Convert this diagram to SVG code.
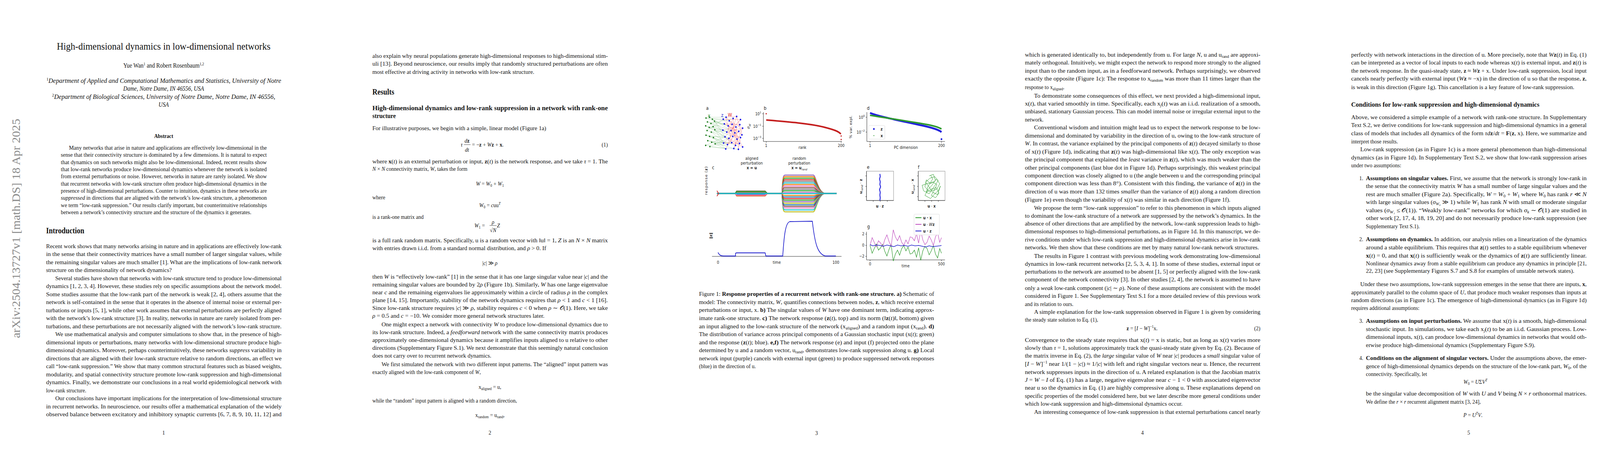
<svg xmlns="http://www.w3.org/2000/svg" width="4635" height="1200" viewBox="0 0 4635 1200">
<style>
.t{font-family:"Liberation Serif","Times New Roman",serif;font-size:15px;fill:#111}
.ab{font-size:14.5px}
.i{font-style:italic}
.b{font-weight:bold}
.c{text-anchor:middle}
.e{text-anchor:end}
.h1{font-family:"Liberation Serif",serif;font-size:20px;font-weight:bold;fill:#111}
.h2{font-family:"Liberation Serif",serif;font-size:17px;font-weight:bold;fill:#111}
.f{font-family:"DejaVu Sans",sans-serif;font-size:10px;fill:#222}
.ax{stroke:#222;stroke-width:1;fill:none}
.tk{stroke:#222;stroke-width:1}
</style>
<rect width="4635" height="1200" fill="#fff"/>
<g transform="scale(0.901,1)">
<g id="page1">
<text class="t" transform="translate(57,865) rotate(-90)" style="font-size:32px;fill:#8a8a8a" textLength="561" lengthAdjust="spacingAndGlyphs">arXiv:2504.13727v1  [math.DS]  18 Apr 2025</text>
<text class="t" x="465" y="127" style="font-size:25px" text-anchor="middle" textLength="607" lengthAdjust="spacingAndGlyphs">High-dimensional dynamics in low-dimensional networks</text>
<text class="t c" x="465" y="173" style="font-size:16px">Yue Wan<tspan dy="-6" font-size="10">1</tspan><tspan dy="6"> and Robert Rosenbaum</tspan><tspan dy="-6" font-size="10">1,2</tspan></text>
<text class="t i" x="132" y="212" style="font-size:16px" textLength="667" lengthAdjust="spacingAndGlyphs"><tspan dy="-6" font-size="10" font-style="normal">1</tspan><tspan dy="6">Department of Applied and Computational Mathematics and Statistics, University of Notre</tspan></text>
<text class="t i c" x="465" y="232" style="font-size:16px">Dame, Notre Dame, IN 46556, USA</text>
<text class="t i" x="148" y="253" style="font-size:16px" textLength="634" lengthAdjust="spacingAndGlyphs"><tspan dy="-6" font-size="10" font-style="normal">2</tspan><tspan dy="6">Department of Biological Sciences, University of Notre Dame, Notre Dame, IN 46556,</tspan></text>
<text class="t i c" x="465" y="273" style="font-size:16px">USA</text>
<text class="t b c" x="465" y="353" style="font-size:14.5px">Abstract</text>
<text class="t ab" x="196" y="383" textLength="562" lengthAdjust="spacingAndGlyphs">Many networks that arise in nature and applications are effectively low-dimensional in the</text>
<text class="t ab" x="173" y="401" textLength="585" lengthAdjust="spacingAndGlyphs">sense that their connectivity structure is dominated by a few dimensions. It is natural to expect</text>
<text class="t ab" x="173" y="420" textLength="585" lengthAdjust="spacingAndGlyphs">that dynamics on such networks might also be low-dimensional. Indeed, recent results show</text>
<text class="t ab" x="173" y="438" textLength="585" lengthAdjust="spacingAndGlyphs">that low-rank networks produce low-dimensional dynamics whenever the network is isolated</text>
<text class="t ab" x="173" y="456" textLength="585" lengthAdjust="spacingAndGlyphs">from external perturbations or noise. However, networks in nature are rarely isolated. We show</text>
<text class="t ab" x="173" y="475" textLength="585" lengthAdjust="spacingAndGlyphs">that recurrent networks with low-rank structure often produce high-dimensional dynamics in the</text>
<text class="t ab" x="173" y="493" textLength="585" lengthAdjust="spacingAndGlyphs">presence of high-dimensional perturbations. Counter to intuition, dynamics in these networks are</text>
<text class="t ab" x="173" y="511" textLength="585" lengthAdjust="spacingAndGlyphs"><tspan class="i">suppressed</tspan> in directions that are aligned with the network’s low-rank structure, a phenomenon</text>
<text class="t ab" x="173" y="530" textLength="585" lengthAdjust="spacingAndGlyphs">we term “low-rank suppression.” Our results clarify important, but counterintuitive relationships</text>
<text class="t ab" x="173" y="548" textLength="541" lengthAdjust="spacingAndGlyphs">between a network’s connectivity structure and the structure of the dynamics it generates.</text>
<text class="h1" x="131" y="597">Introduction</text>
<text class="t" x="131" y="635" textLength="669" lengthAdjust="spacingAndGlyphs">Recent work shows that many networks arising in nature and in applications are effectively low-rank</text>
<text class="t" x="131" y="655" textLength="669" lengthAdjust="spacingAndGlyphs">in the sense that their connectivity matrices have a small number of larger singular values, while</text>
<text class="t" x="131" y="676" textLength="669" lengthAdjust="spacingAndGlyphs">the remaining singular values are much smaller [1]. What are the implications of low-rank network</text>
<text class="t" x="131" y="696" textLength="357" lengthAdjust="spacingAndGlyphs">structure on the dimensionality of network dynamics?</text>
<text class="t" x="157" y="717" textLength="643" lengthAdjust="spacingAndGlyphs">Several studies have shown that networks with low-rank structure tend to produce low-dimensional</text>
<text class="t" x="131" y="737" textLength="669" lengthAdjust="spacingAndGlyphs">dynamics [1, 2, 3, 4]. However, these studies rely on specific assumptions about the network model.</text>
<text class="t" x="131" y="758" textLength="669" lengthAdjust="spacingAndGlyphs">Some studies assume that the low-rank part of the network is weak [2, 4], others assume that the</text>
<text class="t" x="131" y="778" textLength="669" lengthAdjust="spacingAndGlyphs">network is self-contained in the sense that it operates in the absence of internal noise or external per-</text>
<text class="t" x="131" y="799" textLength="669" lengthAdjust="spacingAndGlyphs">turbations or inputs [5, 1], while other work assumes that external perturbations are perfectly aligned</text>
<text class="t" x="131" y="819" textLength="669" lengthAdjust="spacingAndGlyphs">with the network’s low-rank structure [3]. In reality, networks in nature are rarely isolated from per-</text>
<text class="t" x="131" y="840" textLength="669" lengthAdjust="spacingAndGlyphs">turbations, and these perturbations are not necessarily aligned with the network’s low-rank structure.</text>
<text class="t" x="157" y="860" textLength="643" lengthAdjust="spacingAndGlyphs">We use mathematical analysis and computer simulations to show that, in the presence of high-</text>
<text class="t" x="131" y="881" textLength="669" lengthAdjust="spacingAndGlyphs">dimensional inputs or perturbations, many networks with low-dimensional structure produce high-</text>
<text class="t" x="131" y="901" textLength="669" lengthAdjust="spacingAndGlyphs">dimensional dynamics. Moreover, perhaps counterintuitively, these networks <tspan class="i">suppress</tspan> variability in</text>
<text class="t" x="131" y="922" textLength="669" lengthAdjust="spacingAndGlyphs">directions that are aligned with their low-rank structure relative to random directions, an effect we</text>
<text class="t" x="131" y="942" textLength="669" lengthAdjust="spacingAndGlyphs">call “low-rank suppression.” We show that many common structural features such as biased weights,</text>
<text class="t" x="131" y="963" textLength="669" lengthAdjust="spacingAndGlyphs">modularity, and spatial connectivity structure promote low-rank suppression and high-dimensional</text>
<text class="t" x="131" y="983" textLength="669" lengthAdjust="spacingAndGlyphs">dynamics. Finally, we demonstrate our conclusions in a real world epidemiological network with</text>
<text class="t" x="131" y="1004">low-rank structure.</text>
<text class="t" x="157" y="1024" textLength="643" lengthAdjust="spacingAndGlyphs">Our conclusions have important implications for the interpretation of low-dimensional structure</text>
<text class="t" x="131" y="1045" textLength="669" lengthAdjust="spacingAndGlyphs">in recurrent networks. In neuroscience, our results offer a mathematical explanation of the widely</text>
<text class="t" x="131" y="1065" textLength="669" lengthAdjust="spacingAndGlyphs">observed balance between excitatory and inhibitory synaptic currents [6, 7, 8, 9, 10, 11, 12] and</text>
<text class="t c" x="465" y="1112">1</text>
</g>

<g id="page2">
<text class="t" x="1058" y="148" textLength="669" lengthAdjust="spacingAndGlyphs">also explain why neural populations generate high-dimensional responses to high-dimensional stim-</text>
<text class="t" x="1058" y="168" textLength="669" lengthAdjust="spacingAndGlyphs">uli [13]. Beyond neuroscience, our results imply that randomly structured perturbations are often</text>
<text class="t" x="1058" y="189" textLength="460" lengthAdjust="spacingAndGlyphs">most effective at driving activity in networks with low-rank structure.</text>
<text class="h1" x="1058" y="242">Results</text>
<text class="h2" x="1058" y="282" textLength="669" lengthAdjust="spacingAndGlyphs">High-dimensional dynamics and low-rank suppression in a network with rank-one</text>
<text class="h2" x="1058" y="302">structure</text>
<text class="t" x="1058" y="333" textLength="494" lengthAdjust="spacingAndGlyphs">For illustrative purposes, we begin with a simple, linear model (Figure 1a)</text>
<text class="t i" x="1309" y="375">τ</text>
<text class="t c" x="1327" y="365"><tspan class="i">d</tspan><tspan class="b">z</tspan></text>
<line x1="1318" y1="370" x2="1337" y2="370" stroke="#111" stroke-width="0.8"/>
<text class="t i c" x="1327" y="388">dt</text>
<text class="t" x="1341" y="375">= −<tspan class="b">z</tspan> + <tspan class="i">W</tspan><tspan class="b">z</tspan> + <tspan class="b">x</tspan>.</text>
<text class="t e" x="1727" y="375">(1)</text>
<text class="t" x="1058" y="418" textLength="669" lengthAdjust="spacingAndGlyphs">where <tspan class="b">x</tspan>(<tspan class="i">t</tspan>) is an external perturbation or input, <tspan class="b">z</tspan>(<tspan class="i">t</tspan>) is the network response, and we take <tspan class="i">τ</tspan> = 1. The</text>
<text class="t" x="1058" y="437"><tspan class="i">N</tspan> × <tspan class="i">N</tspan> connectivity matrix, <tspan class="i">W</tspan>, takes the form</text>
<text class="t c" x="1392" y="475"><tspan class="i">W</tspan> = <tspan class="i">W</tspan><tspan dy="3" font-size="10">0</tspan><tspan dy="-3"> + </tspan><tspan class="i">W</tspan><tspan dy="3" font-size="10">1</tspan></text>
<text class="t" x="1058" y="510">where</text>
<text class="t c" x="1392" y="530"><tspan class="i">W</tspan><tspan dy="3" font-size="10">0</tspan><tspan dy="-3"> = </tspan><tspan class="i">c</tspan>uu<tspan dy="-6" font-size="10" class="i">T</tspan></text>
<text class="t" x="1058" y="560">is a rank-one matrix and</text>
<text class="t" x="1348" y="582"><tspan class="i">W</tspan><tspan dy="3" font-size="10">1</tspan><tspan dy="-3"> =</tspan></text>
<text class="t i c" x="1401" y="573">ρ</text>
<line x1="1391" y1="577" x2="1411" y2="577" stroke="#111" stroke-width="0.8"/>
<text class="t c" x="1401" y="594">√<tspan class="i">N</tspan></text>
<text class="t i" x="1412" y="582">Z</text>
<text class="t" x="1058" y="620" textLength="669" lengthAdjust="spacingAndGlyphs">is a full rank random matrix. Specifically, u is a random vector with ‖u‖ = 1, <tspan class="i">Z</tspan> is an <tspan class="i">N</tspan> × <tspan class="i">N</tspan> matrix</text>
<text class="t" x="1058" y="640" textLength="494" lengthAdjust="spacingAndGlyphs">with entries drawn i.i.d. from a standard normal distribution, and <tspan class="i">ρ</tspan> &gt; 0. If</text>
<text class="t c" x="1392" y="678">|<tspan class="i">c</tspan>| ≫ <tspan class="i">ρ</tspan></text>
<text class="t" x="1058" y="713" textLength="669" lengthAdjust="spacingAndGlyphs">then <tspan class="i">W</tspan> is “effectively low-rank” [1] in the sense that it has one large singular value near |<tspan class="i">c</tspan>| and the</text>
<text class="t" x="1058" y="733" textLength="669" lengthAdjust="spacingAndGlyphs">remaining singular values are bounded by 2<tspan class="i">ρ</tspan> (Figure 1b). Similarly, <tspan class="i">W</tspan> has one large eigenvalue</text>
<text class="t" x="1058" y="753" textLength="669" lengthAdjust="spacingAndGlyphs">near <tspan class="i">c</tspan> and the remaining eigenvalues lie approximately within a circle of radius <tspan class="i">ρ</tspan> in the complex</text>
<text class="t" x="1058" y="773" textLength="669" lengthAdjust="spacingAndGlyphs">plane [14, 15]. Importantly, stability of the network dynamics requires that <tspan class="i">ρ</tspan> &lt; 1 and <tspan class="i">c</tspan> &lt; 1 [16].</text>
<text class="t" x="1058" y="793" textLength="669" lengthAdjust="spacingAndGlyphs">Since low-rank structure requires |<tspan class="i">c</tspan>| ≫ <tspan class="i">ρ</tspan>, stability requires <tspan class="i">c</tspan> &lt; 0 when <tspan class="i">ρ</tspan> ∼ 𝒪(1). Here, we take</text>
<text class="t" x="1058" y="813" textLength="489" lengthAdjust="spacingAndGlyphs"><tspan class="i">ρ</tspan> = 0.5 and <tspan class="i">c</tspan> = −10. We consider more general network structures later.</text>
<text class="t" x="1084" y="835" textLength="643" lengthAdjust="spacingAndGlyphs">One might expect a network with connectivity <tspan class="i">W</tspan> to produce low-dimensional dynamics due to</text>
<text class="t" x="1058" y="855" textLength="669" lengthAdjust="spacingAndGlyphs">its low-rank structure. Indeed, a <tspan class="i">feedforward</tspan> network with the same connectivity matrix produces</text>
<text class="t" x="1058" y="875" textLength="669" lengthAdjust="spacingAndGlyphs">approximately one-dimensional dynamics because it amplifies inputs aligned to u relative to other</text>
<text class="t" x="1058" y="895" textLength="669" lengthAdjust="spacingAndGlyphs">directions (Supplementary Figure S.1). We next demonstrate that this seemingly natural conclusion</text>
<text class="t" x="1058" y="915" textLength="338" lengthAdjust="spacingAndGlyphs">does not carry over to recurrent network dynamics.</text>
<text class="t" x="1084" y="937" textLength="643" lengthAdjust="spacingAndGlyphs">We first simulated the network with two different input patterns. The “aligned” input pattern was</text>
<text class="t" x="1058" y="957">exactly aligned with the low-rank component of <tspan class="i">W</tspan>,</text>
<text class="t c" x="1392" y="995">x<tspan dy="3" font-size="10">aligned</tspan><tspan dy="-3"> = u,</tspan></text>
<text class="t" x="1058" y="1030">while the “random” input pattern is aligned with a random direction,</text>
<text class="t c" x="1392" y="1067">x<tspan dy="3" font-size="10">random</tspan><tspan dy="-3"> = u</tspan><tspan dy="3" font-size="10">rand</tspan><tspan dy="-3">,</tspan></text>
<text class="t c" x="1392" y="1112">2</text>
</g>

<g id="page3">
<g id="fig-a">
<text class="f" x="2006" y="281" style="font-size:12px">a</text>
<text class="f" x="2011" y="300" style="font-size:12px;fill:#2a8a2a">x</text>
<text class="f" x="2049" y="299" style="font-size:12px;fill:#2222cc">z</text>
<text class="f" x="2068" y="298" style="font-size:12px;fill:#dd2222">W</text>
<path stroke="#3a9a3a" stroke-opacity="0.4" stroke-width="0.8" fill="none" d="M2006,302L2055,305 M2006,302L2069,322 M2016,300L2063,300 M2016,300L2088,340 M2024,305L2072,309 M2024,305L2054,333 M2010,312L2058,317 M2010,312L2077,334 M2020,316L2065,338 M2020,316L2083,303 M2030,310L2069,322 M2030,310L2060,350 M2005,322L2054,333 M2005,322L2071,354 M2015,326L2058,317 M2015,326L2082,349 M2026,324L2065,338 M2026,324L2056,366 M2009,334L2060,350 M2009,334L2055,305 M2021,338L2067,370 M2021,338L2077,334 M2031,332L2054,333 M2031,332L2079,365 M2006,346L2056,366 M2006,346L2071,354 M2016,349L2060,350 M2016,349L2090,372 M2027,352L2067,370 M2027,352L2062,381 M2011,360L2056,366 M2011,360L2085,380 M2022,364L2062,381 M2022,364L2079,365 M2005,372L2067,370 M2005,372L2060,350 M2017,375L2062,381 M2017,375L2098,382 M2032,368L2056,366 M2032,368L2071,354"/>
<path stroke="#ee3333" stroke-opacity="0.5" stroke-width="0.8" fill="none" d="M2055,305L2104,306 M2063,300L2091,325 M2072,309L2110,328 M2083,303L2065,338 M2093,298L2108,345 M2104,306L2077,334 M2058,317L2102,319 M2069,322L2094,356 M2080,318L2110,376 M2091,325L2054,333 M2102,319L2071,354 M2110,328L2082,349 M2065,338L2104,352 M2077,334L2101,367 M2088,340L2056,366 M2099,336L2067,370 M2108,345L2079,365 M2060,350L2090,372 M2071,354L2110,376 M2082,349L2062,381 M2094,356L2085,380 M2104,352L2098,382 M2056,366L2101,367 M2067,370L2093,298 M2079,365L2063,300 M2090,372L2083,303 M2101,367L2072,309 M2055,305L2088,340 M2104,306L2060,350 M2110,328L2065,338 M2099,336L2058,317 M2108,345L2069,322 M2085,380L2110,328 M2098,382L2091,325 M2063,300L2093,298"/>
<g fill="#1a7a1a">
<circle cx="2006" cy="302" r="2"/><circle cx="2016" cy="300" r="2"/><circle cx="2024" cy="305" r="2"/><circle cx="2010" cy="312" r="2"/><circle cx="2020" cy="316" r="2"/><circle cx="2030" cy="310" r="2"/><circle cx="2005" cy="322" r="2"/><circle cx="2015" cy="326" r="2"/><circle cx="2026" cy="324" r="2"/><circle cx="2009" cy="334" r="2"/><circle cx="2021" cy="338" r="2"/><circle cx="2031" cy="332" r="2"/><circle cx="2006" cy="346" r="2"/><circle cx="2016" cy="349" r="2"/><circle cx="2027" cy="352" r="2"/><circle cx="2011" cy="360" r="2"/><circle cx="2022" cy="364" r="2"/><circle cx="2005" cy="372" r="2"/><circle cx="2017" cy="375" r="2"/><circle cx="2032" cy="368" r="2"/>
</g>
<g fill="#1a1aee">
<circle cx="2055" cy="305" r="2.2"/><circle cx="2063" cy="300" r="2.2"/><circle cx="2072" cy="309" r="2.2"/><circle cx="2083" cy="303" r="2.2"/><circle cx="2093" cy="298" r="2.2"/><circle cx="2104" cy="306" r="2.2"/><circle cx="2058" cy="317" r="2.2"/><circle cx="2069" cy="322" r="2.2"/><circle cx="2080" cy="318" r="2.2"/><circle cx="2091" cy="325" r="2.2"/><circle cx="2102" cy="319" r="2.2"/><circle cx="2110" cy="328" r="2.2"/><circle cx="2054" cy="333" r="2.2"/><circle cx="2065" cy="338" r="2.2"/><circle cx="2077" cy="334" r="2.2"/><circle cx="2088" cy="340" r="2.2"/><circle cx="2099" cy="336" r="2.2"/><circle cx="2108" cy="345" r="2.2"/><circle cx="2060" cy="350" r="2.2"/><circle cx="2071" cy="354" r="2.2"/><circle cx="2082" cy="349" r="2.2"/><circle cx="2094" cy="356" r="2.2"/><circle cx="2104" cy="352" r="2.2"/><circle cx="2056" cy="366" r="2.2"/><circle cx="2067" cy="370" r="2.2"/><circle cx="2079" cy="365" r="2.2"/><circle cx="2090" cy="372" r="2.2"/><circle cx="2101" cy="367" r="2.2"/><circle cx="2110" cy="376" r="2.2"/><circle cx="2062" cy="381" r="2.2"/><circle cx="2085" cy="380" r="2.2"/><circle cx="2098" cy="382" r="2.2"/>
</g>
</g>

<g id="fig-b">
<text class="f" x="2170" y="281" style="font-size:12px">b</text>
<path class="ax" d="M2169,287 L2169,362 L2392,362"/>
<path class="tk" d="M2166,291H2169 M2166,323H2169 M2166,354H2169 M2177,362V365 M2390,362V365"/>
<text class="f e" x="2163" y="295">10<tspan dy="-5" font-size="7">1</tspan></text>
<text class="f e" x="2163" y="327">10<tspan dy="-5" font-size="7">−1</tspan></text>
<text class="f e" x="2163" y="358">10<tspan dy="-5" font-size="7">−3</tspan></text>
<text class="f i" transform="translate(2130,330) rotate(-90)">σ<tspan dy="3" font-size="7">W</tspan></text>
<text class="f c" x="2177" y="376">1</text>
<text class="f c" x="2390" y="376">200</text>
<text class="f c" x="2280" y="381">rank</text>
<path d="M2177,307 C2230,311 2300,316 2340,325 C2370,332 2383,336 2389,343" stroke="#c41e1e" stroke-width="4" fill="none"/>
<g fill="#c41e1e"><circle cx="2177" cy="291" r="1.8"/><circle cx="2390" cy="348" r="1.8"/><circle cx="2390" cy="357" r="1.8"/></g>
</g>

<g id="fig-d">
<text class="f" x="2463" y="281" style="font-size:12px">d</text>
<path class="ax" d="M2463,287 L2463,362 L2685,362"/>
<path class="tk" d="M2460,300H2463 M2460,338H2463 M2472,362V365 M2675,362V365"/>
<text class="f e" x="2457" y="304">10<tspan dy="-5" font-size="7">0</tspan></text>
<text class="f e" x="2457" y="342">10<tspan dy="-5" font-size="7">−2</tspan></text>
<text class="f c" transform="translate(2421,325) rotate(-90)">% var. expl.</text>
<text class="f c" x="2472" y="376">1</text>
<text class="f c" x="2675" y="376">200</text>
<text class="f c" x="2574" y="381">PC dimension</text>
<path d="M2472,289 C2500,299 2560,309 2620,321 C2650,327 2668,332 2675,338" stroke="#2222dd" stroke-width="5" fill="none"/>
<path d="M2472,295 C2520,302 2580,310 2630,318 C2655,322 2668,326 2675,330" stroke="#2e9a2e" stroke-width="4" fill="none"/>
<circle cx="2675" cy="356" r="2.5" fill="#2222dd"/>
<rect x="2468" y="321" width="46" height="35" rx="2" fill="#fff" fill-opacity="0.85" stroke="#ddd"/>
<circle cx="2483" cy="330" r="2.5" fill="#2222dd"/>
<text class="f b" x="2502" y="334">z</text>
<circle cx="2483" cy="347" r="1.2" fill="#2e9a2e"/>
<text class="f b" x="2502" y="351">x</text>
</g>

<g id="fig-c">
<text class="f c" x="2136" y="409">aligned</text>
<text class="f c" x="2136" y="421">perturbation</text>
<text class="f c b" x="2136" y="433">x = u</text>
<text class="f c" x="2271" y="409">random</text>
<text class="f c" x="2271" y="421">perturbation</text>
<text class="f c" x="2271" y="433"><tspan class="b">x = u</tspan><tspan dy="3" font-size="7" class="i">rand</tspan></text>
<text class="f" x="2023" y="433" style="font-size:12px">c</text>
<text class="f c" transform="translate(2010,462) rotate(-90)" style="letter-spacing:1px">response (<tspan class="b">z</tspan>)</text>
<g fill="none" stroke-width="2.5">
<path stroke="#bcbd22" d="M2037,495 L2089,495 L2093,501 L2174,501 L2180,495 L2222,495 C2224,542 2226,542 2232,542 L2311,542 C2318,542 2325,495 2345,495 L2377,495"/>
<path stroke="#9467bd" d="M2037,495 L2089,495 L2093,489 L2174,489 L2180,495 L2222,495 C2224,448 2226,448 2232,448 L2311,448 C2318,448 2325,495 2345,495 L2377,495"/>
<path stroke="#17becf" d="M2037,495 L2089,495 L2093,500 L2174,500 L2180,495 L2222,495 C2224,537 2226,537 2232,537 L2311,537 C2318,537 2325,495 2345,495 L2377,495"/>
<path stroke="#ff7f0e" d="M2037,495 L2089,495 L2093,490 L2174,490 L2180,495 L2222,495 C2224,452 2226,452 2232,452 L2311,452 C2318,452 2325,495 2345,495 L2377,495"/>
<path stroke="#e377c2" d="M2037,495 L2089,495 L2093,499 L2174,499 L2180,495 L2222,495 C2224,532 2226,532 2232,532 L2311,532 C2318,532 2325,495 2345,495 L2377,495"/>
<path stroke="#2ca02c" d="M2037,495 L2089,495 L2093,491 L2174,491 L2180,495 L2222,495 C2224,456 2226,456 2232,456 L2311,456 C2318,456 2325,495 2345,495 L2377,495"/>
<path stroke="#8c564b" d="M2037,495 L2089,495 L2093,498 L2174,498 L2180,495 L2222,495 C2224,528 2226,528 2232,528 L2311,528 C2318,528 2325,495 2345,495 L2377,495"/>
<path stroke="#d62728" d="M2037,495 L2089,495 L2093,492 L2174,492 L2180,495 L2222,495 C2224,460 2226,460 2232,460 L2311,460 C2318,460 2325,495 2345,495 L2377,495"/>
<path stroke="#1f77b4" d="M2037,495 L2089,495 L2093,500 L2174,500 L2180,495 L2222,495 C2224,524 2226,524 2232,524 L2311,524 C2318,524 2325,495 2345,495 L2377,495"/>
<path stroke="#7f7f7f" d="M2037,495 L2089,495 L2093,490 L2174,490 L2180,495 L2222,495 C2224,464 2226,464 2232,464 L2311,464 C2318,464 2325,495 2345,495 L2377,495"/>
<path stroke="#bcbd22" d="M2037,495 L2089,495 L2093,499 L2174,499 L2180,495 L2222,495 C2224,520 2226,520 2232,520 L2311,520 C2318,520 2325,495 2345,495 L2377,495"/>
<path stroke="#17becf" d="M2037,495 L2089,495 L2093,491 L2174,491 L2180,495 L2222,495 C2224,468 2226,468 2232,468 L2311,468 C2318,468 2325,495 2345,495 L2377,495"/>
<path stroke="#9467bd" d="M2037,495 L2089,495 L2093,498 L2174,498 L2180,495 L2222,495 C2224,516 2226,516 2232,516 L2311,516 C2318,516 2325,495 2345,495 L2377,495"/>
<path stroke="#ff7f0e" d="M2037,495 L2089,495 L2093,492 L2174,492 L2180,495 L2222,495 C2224,472 2226,472 2232,472 L2311,472 C2318,472 2325,495 2345,495 L2377,495"/>
<path stroke="#2ca02c" d="M2037,495 L2089,495 L2093,497 L2174,497 L2180,495 L2222,495 C2224,512 2226,512 2232,512 L2311,512 C2318,512 2325,495 2345,495 L2377,495"/>
<path stroke="#e377c2" d="M2037,495 L2089,495 L2093,493 L2174,493 L2180,495 L2222,495 C2224,476 2226,476 2232,476 L2311,476 C2318,476 2325,495 2345,495 L2377,495"/>
<path stroke="#d62728" d="M2037,495 L2089,495 L2093,501 L2174,501 L2180,495 L2222,495 C2224,508 2226,508 2232,508 L2311,508 C2318,508 2325,495 2345,495 L2377,495"/>
<path stroke="#8c564b" d="M2037,495 L2089,495 L2093,489 L2174,489 L2180,495 L2222,495 C2224,480 2226,480 2232,480 L2311,480 C2318,480 2325,495 2345,495 L2377,495"/>
<path stroke="#1f77b4" d="M2037,495 L2089,495 L2093,497 L2174,497 L2180,495 L2222,495 C2224,504 2226,504 2232,504 L2311,504 C2318,504 2325,495 2345,495 L2377,495"/>
<path stroke="#7f7f7f" d="M2037,495 L2089,495 L2093,493 L2174,493 L2180,495 L2222,495 C2224,484 2226,484 2232,484 L2311,484 C2318,484 2325,495 2345,495 L2377,495"/>
<path stroke="#ff7f0e" d="M2037,495 L2089,495 L2093,500 L2174,500 L2180,495 L2222,495 C2224,500 2226,500 2232,500 L2311,500 C2318,500 2325,495 2345,495 L2377,495"/>
<path stroke="#2ca02c" d="M2037,495 L2089,495 L2093,490 L2174,490 L2180,495 L2222,495 C2224,488 2226,488 2232,488 L2311,488 C2318,488 2325,495 2345,495 L2377,495"/>
<path stroke="#e377c2" d="M2037,495 L2089,495 L2093,499 L2174,499 L2180,495 L2222,495 C2224,492 2226,492 2232,492 L2311,492 C2318,492 2325,495 2345,495 L2377,495"/>
<path stroke="#17becf" stroke-width="3" d="M2037,495 L2377,495"/>
<path stroke="#d62728" stroke-width="2" d="M2037,488 L2042,495 L2037,502"/>
</g>
</g>

<g id="fig-norm">
<text class="f c b" transform="translate(2023,603) rotate(-90)">‖z‖</text>
<path class="ax" d="M2023,656 L2391,656"/>
<path d="M2040,646 C2044,653 2048,655 2056,655 L2090,655 L2090,648 C2091,647 2092,647 2094,647 L2174,647 L2176,655 L2224,655 C2228,600 2232,570 2244,567 L2308,566 C2315,620 2322,650 2345,655 L2375,655" stroke="#1a1acc" stroke-width="1.8" fill="none"/>
<text class="f c" x="2040" y="675">0</text>
<text class="f c" x="2207" y="675">time</text>
<text class="f c" x="2375" y="675">100</text>
</g>

<g id="fig-e">
<text class="f" x="2463" y="432" style="font-size:12px">e</text>
<rect x="2462" y="438" width="77" height="75" fill="none" stroke="#888" stroke-width="1"/>
<path class="ax" d="M2462,438 V513 H2539"/>
<path class="tk" d="M2459,450H2462 M2459,477H2462 M2459,503H2462 M2481,513V516 M2501,513V516 M2521,513V516"/>
<path d="M2500,445 L2501,452 L2499,458 L2501,465 L2500,472 L2502,478 L2499,485 L2501,492 L2500,499 L2501,506 L2500,513" stroke="#2222dd" stroke-width="2.5" fill="none"/>
<text class="f c" transform="translate(2449,477) rotate(-90)"><tspan class="b">u</tspan><tspan dy="3" font-size="7" class="i">rand</tspan><tspan dy="-3"> · </tspan><tspan class="b">z</tspan></text>
<text class="f c" x="2500" y="531"><tspan class="b">u</tspan> · <tspan class="b">z</tspan></text>
</g>

<g id="fig-f">
<text class="f" x="2608" y="432" style="font-size:12px">f</text>
<rect x="2609" y="438" width="76" height="75" fill="none" stroke="#888" stroke-width="1"/>
<path class="ax" d="M2609,438 V513 H2685"/>
<path class="tk" d="M2606,450H2609 M2606,477H2609 M2606,503H2609 M2628,513V516 M2647,513V516 M2666,513V516"/>
<path d="M2640,450 L2652,446 L2658,462 L2644,470 L2632,460 L2628,478 L2640,490 L2662,484 L2670,470 L2660,458 L2648,474 L2636,486 L2628,500 L2644,508 L2656,496 L2666,488 L2672,476 L2664,498 L2650,492 L2638,476 L2630,466 L2642,456 L2656,452 L2666,462 L2652,480 L2640,496 L2624,488 L2620,474 L2634,470 L2650,466 L2662,472 L2654,488 L2646,500 L2658,506 L2668,494 L2660,480 L2646,484 L2632,492 L2636,478 L2650,458 L2644,448" stroke="#2a9a2a" stroke-width="1" fill="none" stroke-linejoin="round"/>
<text class="f c" transform="translate(2596,477) rotate(-90)"><tspan class="b">u</tspan><tspan dy="3" font-size="7" class="i">rand</tspan><tspan dy="-3"> · </tspan><tspan class="b">x</tspan></text>
<text class="f c" x="2647" y="531"><tspan class="b">u</tspan> · <tspan class="b">x</tspan></text>
</g>

<g id="fig-g">
<text class="f" x="2464" y="584" style="font-size:12px">g</text>
<path class="ax" d="M2462,593 L2462,665 L2685,665"/>
<path class="tk" d="M2459,599H2462 M2459,628H2462 M2459,656H2462 M2472,665V668 M2675,665V668"/>
<text class="f e" x="2456" y="602">2</text>
<text class="f e" x="2456" y="631">0</text>
<text class="f e" x="2456" y="659">−2</text>
<text class="f c" x="2472" y="679">0</text>
<text class="f c" x="2675" y="679">500</text>
<text class="f c" x="2573" y="684">time</text>
<polyline fill="none" stroke="#2e9a2e" stroke-width="1.3" points="2472,628 2478,648 2484,636 2490,624 2496,640 2502,634 2508,625 2514,643 2520,655 2526,638 2532,626 2538,668 2544,650 2550,640 2556,653 2562,636 2568,628 2574,642 2580,632 2586,650 2592,648 2598,640 2604,658 2610,634 2616,666 2622,642 2628,630 2634,636 2640,652 2646,642 2652,628 2658,650 2664,660 2670,636 2675,648"/>
<polyline fill="none" stroke="#c050c0" stroke-width="1.3" points="2472,628 2478,608 2484,620 2490,632 2496,616 2502,622 2508,631 2514,613 2520,601 2526,618 2532,630 2538,588 2544,606 2550,616 2556,603 2562,620 2568,628 2574,614 2580,624 2586,606 2592,608 2598,616 2604,598 2610,622 2616,590 2622,614 2628,626 2634,620 2640,604 2646,614 2652,628 2658,606 2664,596 2670,620 2675,608"/>
<polyline fill="none" stroke="#2222cc" stroke-width="1.5" points="2472,626 2480,629 2490,627 2500,628 2510,630 2520,627 2530,629 2540,631 2550,627 2560,629 2570,628 2580,630 2590,627 2600,629 2610,628 2620,630 2630,632 2640,629 2650,631 2660,630 2670,629 2675,628"/>
<rect x="2597" y="548" width="72" height="53" rx="2" fill="#fff" stroke="#ddd"/>
<line x1="2601" y1="557" x2="2618" y2="557" stroke="#2e9a2e" stroke-width="2"/>
<text class="f b" x="2623" y="561">u · x</text>
<line x1="2601" y1="574" x2="2618" y2="574" stroke="#c050c0" stroke-width="2"/>
<text class="f" x="2623" y="578"><tspan class="b">u</tspan> · <tspan class="i">W</tspan><tspan class="b">z</tspan></text>
<line x1="2601" y1="591" x2="2618" y2="591" stroke="#2222cc" stroke-width="2"/>
<text class="f b" x="2623" y="595">u · z</text>
</g>

<text class="t" x="1986" y="757" textLength="668" lengthAdjust="spacingAndGlyphs">Figure 1: <tspan class="b">Response properties of a recurrent network with rank-one structure.</tspan> <tspan class="b">a)</tspan> Schematic of</text>
<text class="t" x="1986" y="778" textLength="668" lengthAdjust="spacingAndGlyphs">model: The connectivity matrix, <tspan class="i">W</tspan>, quantifies connections between nodes, <tspan class="b">z</tspan>, which receive external</text>
<text class="t" x="1986" y="798" textLength="668" lengthAdjust="spacingAndGlyphs">perturbations or input, x. <tspan class="b">b)</tspan> The singular values of <tspan class="i">W</tspan> have one dominant term, indicating approx-</text>
<text class="t" x="1986" y="819" textLength="668" lengthAdjust="spacingAndGlyphs">imate rank-one structure. <tspan class="b">c)</tspan> The network response (<tspan class="b">z</tspan>(<tspan class="i">t</tspan>), top) and its norm (‖<tspan class="b">z</tspan>(<tspan class="i">t</tspan>)‖, bottom) given</text>
<text class="t" x="1986" y="840" textLength="668" lengthAdjust="spacingAndGlyphs">an input aligned to the low-rank structure of the network (x<tspan dy="3" font-size="10">aligned</tspan><tspan dy="-3">) and a random input (x</tspan><tspan dy="3" font-size="10">rand</tspan><tspan dy="-3">). </tspan><tspan class="b">d)</tspan></text>
<text class="t" x="1986" y="860" textLength="668" lengthAdjust="spacingAndGlyphs">The distribution of variance across principal components of a Gaussian stochastic input (x(<tspan class="i">t</tspan>); green)</text>
<text class="t" x="1986" y="881" textLength="668" lengthAdjust="spacingAndGlyphs">and the response (<tspan class="b">z</tspan>(<tspan class="i">t</tspan>); blue). <tspan class="b">e,f)</tspan> The network response (e) and input (f) projected onto the plane</text>
<text class="t" x="1986" y="901" textLength="668" lengthAdjust="spacingAndGlyphs">determined by u and a random vector, u<tspan dy="3" font-size="10">rand</tspan><tspan dy="-3">, demonstrates low-rank suppression along u. </tspan><tspan class="b">g)</tspan> Local</text>
<text class="t" x="1986" y="922" textLength="668" lengthAdjust="spacingAndGlyphs">network input (purple) cancels with external input (green) to produce suppressed network responses</text>
<text class="t" x="1986" y="942">(blue) in the direction of u.</text>
<text class="t c" x="2320" y="1113">3</text>
</g>

<g id="page4">
<text class="t" x="2912" y="145" textLength="669" lengthAdjust="spacingAndGlyphs">which is generated identically to, but independently from u. For large <tspan class="i">N</tspan>, u and u<tspan dy="3" font-size="10">rand</tspan><tspan dy="-3"> are approxi-</tspan></text>
<text class="t" x="2912" y="165" textLength="669" lengthAdjust="spacingAndGlyphs">mately orthogonal. Intuitively, we might expect the network to respond more strongly to the aligned</text>
<text class="t" x="2912" y="186" textLength="669" lengthAdjust="spacingAndGlyphs">input than to the random input, as in a feedforward network. Perhaps surprisingly, we observed</text>
<text class="t" x="2912" y="206" textLength="669" lengthAdjust="spacingAndGlyphs">exactly the opposite (Figure 1c): The response to x<tspan dy="3" font-size="10">random</tspan><tspan dy="-3"> was more than 11 times larger than the</tspan></text>
<text class="t" x="2912" y="228">response to x<tspan dy="3" font-size="10">aligned</tspan><tspan dy="-3">.</tspan></text>
<text class="t" x="2938" y="250" textLength="643" lengthAdjust="spacingAndGlyphs">To demonstrate some consequences of this effect, we next provided a high-dimensional input,</text>
<text class="t" x="2912" y="270" textLength="669" lengthAdjust="spacingAndGlyphs">x(<tspan class="i">t</tspan>), that varied smoothly in time. Specifically, each x<tspan dy="3" font-size="10" class="i">j</tspan><tspan dy="-3">(</tspan><tspan class="i">t</tspan>) was an i.i.d. realization of a smooth,</text>
<text class="t" x="2912" y="290" textLength="669" lengthAdjust="spacingAndGlyphs">unbiased, stationary Gaussian process. This can model internal noise or irregular external input to the</text>
<text class="t" x="2912" y="311">network.</text>
<text class="t" x="2938" y="331" textLength="643" lengthAdjust="spacingAndGlyphs">Conventional wisdom and intuition might lead us to expect the network response to be low-</text>
<text class="t" x="2912" y="352" textLength="669" lengthAdjust="spacingAndGlyphs">dimensional and dominated by variability in the direction of u, owing to the low-rank structure of</text>
<text class="t" x="2912" y="372" textLength="669" lengthAdjust="spacingAndGlyphs"><tspan class="i">W</tspan>. In contrast, the variance explained by the principal components of <tspan class="b">z</tspan>(<tspan class="i">t</tspan>) decayed similarly to those</text>
<text class="t" x="2912" y="393" textLength="669" lengthAdjust="spacingAndGlyphs">of x(<tspan class="i">t</tspan>) (Figure 1d), indicating that <tspan class="b">z</tspan>(<tspan class="i">t</tspan>) was high-dimensional like x(<tspan class="i">t</tspan>). The only exception was</text>
<text class="t" x="2912" y="413" textLength="669" lengthAdjust="spacingAndGlyphs">the principal component that explained the <tspan class="i">least</tspan> variance in <tspan class="b">z</tspan>(<tspan class="i">t</tspan>), which was much weaker than the</text>
<text class="t" x="2912" y="434" textLength="669" lengthAdjust="spacingAndGlyphs">other principal components (last blue dot in Figure 1d). Perhaps surprisingly, this weakest principal</text>
<text class="t" x="2912" y="454" textLength="669" lengthAdjust="spacingAndGlyphs">component direction was closely aligned to u (the angle between u and the corresponding principal</text>
<text class="t" x="2912" y="474" textLength="669" lengthAdjust="spacingAndGlyphs">component direction was less than 8°). Consistent with this finding, the variance of <tspan class="b">z</tspan>(<tspan class="i">t</tspan>) in the</text>
<text class="t" x="2912" y="495" textLength="669" lengthAdjust="spacingAndGlyphs">direction of u was more than 132 times <tspan class="i">smaller</tspan> than the variance of <tspan class="b">z</tspan>(<tspan class="i">t</tspan>) along a random direction</text>
<text class="t" x="2912" y="516" textLength="584" lengthAdjust="spacingAndGlyphs">(Figure 1e) even though the variability of x(<tspan class="i">t</tspan>) was similar in each direction (Figure 1f).</text>
<text class="t" x="2938" y="537" textLength="643" lengthAdjust="spacingAndGlyphs">We propose the term “low-rank suppression” to refer to this phenomenon in which inputs aligned</text>
<text class="t" x="2912" y="557" textLength="669" lengthAdjust="spacingAndGlyphs">to dominant the low-rank structure of a network are suppressed by the network’s dynamics. In the</text>
<text class="t" x="2912" y="577" textLength="669" lengthAdjust="spacingAndGlyphs">absence of other directions that are amplified by the network, low-rank suppression leads to high-</text>
<text class="t" x="2912" y="597" textLength="669" lengthAdjust="spacingAndGlyphs">dimensional responses to high-dimensional perturbations, as in Figure 1d. In this manuscript, we de-</text>
<text class="t" x="2912" y="618" textLength="669" lengthAdjust="spacingAndGlyphs">rive conditions under which low-rank suppression and high-dimensional dynamics arise in low-rank</text>
<text class="t" x="2912" y="638" textLength="665" lengthAdjust="spacingAndGlyphs">networks. We then show that these conditions are met by many natural low-rank network structures.</text>
<text class="t" x="2938" y="660" textLength="643" lengthAdjust="spacingAndGlyphs">The results in Figure 1 contrast with previous modeling work demonstrating low-dimensional</text>
<text class="t" x="2912" y="680" textLength="669" lengthAdjust="spacingAndGlyphs">dynamics in low-rank recurrent networks [2, 5, 3, 4, 1]. In some of these studies, external input or</text>
<text class="t" x="2912" y="700" textLength="669" lengthAdjust="spacingAndGlyphs">perturbations to the network are assumed to be absent [1, 5] or perfectly aligned with the low-rank</text>
<text class="t" x="2912" y="720" textLength="669" lengthAdjust="spacingAndGlyphs">component of the network connectivity [3]. In other studies [2, 4], the network is assumed to have</text>
<text class="t" x="2912" y="742" textLength="669" lengthAdjust="spacingAndGlyphs">only a <tspan class="i">weak</tspan> low-rank component (|<tspan class="i">c</tspan>| ∼ <tspan class="i">ρ</tspan>). None of these assumptions are consistent with the model</text>
<text class="t" x="2912" y="762" textLength="669" lengthAdjust="spacingAndGlyphs">considered in Figure 1. See Supplementary Text S.1 for a more detailed review of this previous work</text>
<text class="t" x="2912" y="783">and its relation to ours.</text>
<text class="t" x="2938" y="803" textLength="643" lengthAdjust="spacingAndGlyphs">A simple explanation for the low-rank suppression observed in Figure 1 is given by considering</text>
<text class="t" x="2912" y="823">the steady state solution to Eq. (1),</text>
<text class="t c" x="3245" y="845"><tspan class="b">z</tspan> = [<tspan class="i">I</tspan> − <tspan class="i">W</tspan>]<tspan dy="-6" font-size="10">−1</tspan><tspan dy="6">x.</tspan></text>
<text class="t e" x="3581" y="845">(2)</text>
<text class="t" x="2912" y="875" textLength="669" lengthAdjust="spacingAndGlyphs">Convergence to the steady state requires that x(<tspan class="i">t</tspan>) = x is static, but as long as x(<tspan class="i">t</tspan>) varies more</text>
<text class="t" x="2912" y="895" textLength="669" lengthAdjust="spacingAndGlyphs">slowly than <tspan class="i">τ</tspan> = 1, solutions approximately track the quasi-steady state given by Eq. (2). Because of</text>
<text class="t" x="2912" y="915" textLength="669" lengthAdjust="spacingAndGlyphs">the matrix inverse in Eq. (2), the <tspan class="i">large</tspan> singular value of <tspan class="i">W</tspan> near |<tspan class="i">c</tspan>| produces a <tspan class="i">small</tspan> singular value of</text>
<text class="t" x="2912" y="936" textLength="669" lengthAdjust="spacingAndGlyphs">[<tspan class="i">I</tspan> − <tspan class="i">W</tspan>]<tspan dy="-6" font-size="10">−1</tspan><tspan dy="6"> near 1/(1 − |</tspan><tspan class="i">c</tspan>|) ≈ 1/|<tspan class="i">c</tspan>| with left and right singular vectors near u. Hence, the recurrent</text>
<text class="t" x="2912" y="957" textLength="669" lengthAdjust="spacingAndGlyphs">network suppresses inputs in the direction of u. A related explanation is that the Jacobian matrix</text>
<text class="t" x="2912" y="977" textLength="669" lengthAdjust="spacingAndGlyphs"><tspan class="i">J</tspan> = <tspan class="i">W</tspan> − <tspan class="i">I</tspan> of Eq. (1) has a large, negative eigenvalue near <tspan class="i">c</tspan> − 1 &lt; 0 with associated eigenvector</text>
<text class="t" x="2912" y="997" textLength="669" lengthAdjust="spacingAndGlyphs">near u so the dynamics in Eq. (1) are highly compressive along u. These explanations depend on</text>
<text class="t" x="2912" y="1018" textLength="669" lengthAdjust="spacingAndGlyphs">specific properties of the model considered here, but we later describe more general conditions under</text>
<text class="t" x="2912" y="1038" textLength="448" lengthAdjust="spacingAndGlyphs">which low-rank suppression and high-dimensional dynamics occur.</text>
<text class="t" x="2938" y="1059" textLength="643" lengthAdjust="spacingAndGlyphs">An interesting consequence of low-rank suppression is that external perturbations cancel nearly</text>
<text class="t c" x="3246" y="1112">4</text>
</g>

<g id="page5">
<text class="t" x="3839" y="145" textLength="669" lengthAdjust="spacingAndGlyphs">perfectly with network interactions in the direction of u. More precisely, note that <tspan class="i">W</tspan><tspan class="b">z</tspan>(<tspan class="i">t</tspan>) in Eq. (1)</text>
<text class="t" x="3839" y="165" textLength="669" lengthAdjust="spacingAndGlyphs">can be interpreted as a vector of local inputs to each node whereas x(<tspan class="i">t</tspan>) is external input, and <tspan class="b">z</tspan>(<tspan class="i">t</tspan>) is</text>
<text class="t" x="3839" y="186" textLength="669" lengthAdjust="spacingAndGlyphs">the network response. In the quasi-steady state, <tspan class="b">z</tspan> ≈ <tspan class="i">W</tspan><tspan class="b">z</tspan> + x. Under low-rank suppression, local input</text>
<text class="t" x="3839" y="206" textLength="669" lengthAdjust="spacingAndGlyphs">cancels nearly perfectly with external input (<tspan class="i">W</tspan><tspan class="b">z</tspan> ≈ −x) in the direction of u so that the response, <tspan class="b">z</tspan>,</text>
<text class="t" x="3839" y="228" textLength="634" lengthAdjust="spacingAndGlyphs">is weak in this direction (Figure 1g). This cancellation is a key feature of low-rank suppression.</text>
<text class="h2" x="3839" y="273" textLength="535" lengthAdjust="spacingAndGlyphs">Conditions for low-rank suppression and high-dimensional dynamics</text>
<text class="t" x="3839" y="305" textLength="669" lengthAdjust="spacingAndGlyphs">Above, we considered a simple example of a network with rank-one structure. In Supplementary</text>
<text class="t" x="3839" y="325" textLength="669" lengthAdjust="spacingAndGlyphs">Text S.2, we derive conditions for low-rank suppression and high-dimensional dynamics in a general</text>
<text class="t" x="3839" y="346" textLength="669" lengthAdjust="spacingAndGlyphs">class of models that includes all dynamics of the form <tspan class="i">τd</tspan><tspan class="b">z</tspan>/<tspan class="i">dt</tspan> = <tspan class="b">F</tspan>(<tspan class="b">z</tspan>, x). Here, we summarize and</text>
<text class="t" x="3839" y="367">interpret those results.</text>
<text class="t" x="3865" y="387" textLength="643" lengthAdjust="spacingAndGlyphs">Low-rank suppression (as in Figure 1c) is a more general phenomenon than high-dimensional</text>
<text class="t" x="3839" y="408" textLength="669" lengthAdjust="spacingAndGlyphs">dynamics (as in Figure 1d). In Supplementary Text S.2, we show that low-rank suppression arises</text>
<text class="t" x="3839" y="428">under two assumptions:</text>
<text class="t" x="3862" y="461">1.</text>
<text class="t" x="3881" y="461" textLength="627" lengthAdjust="spacingAndGlyphs"><tspan class="b">Assumptions on singular values.</tspan> First, we assume that the network is strongly low-rank in</text>
<text class="t" x="3881" y="481" textLength="627" lengthAdjust="spacingAndGlyphs">the sense that the connectivity matrix <tspan class="i">W</tspan> has a small number of large singular values and the</text>
<text class="t" x="3881" y="502" textLength="627" lengthAdjust="spacingAndGlyphs">rest are much smaller (Figure 2a). Specifically, <tspan class="i">W</tspan> = <tspan class="i">W</tspan><tspan dy="3" font-size="10">0</tspan><tspan dy="-3"> + </tspan><tspan class="i">W</tspan><tspan dy="3" font-size="10">1</tspan><tspan dy="-3"> where </tspan><tspan class="i">W</tspan><tspan dy="3" font-size="10">0</tspan><tspan dy="-3"> has rank </tspan><tspan class="i">r</tspan> ≪ <tspan class="i">N</tspan></text>
<text class="t" x="3881" y="522" textLength="627" lengthAdjust="spacingAndGlyphs">with large singular values (<tspan class="i">σ</tspan><tspan dy="3" font-size="10" class="i">W₀</tspan><tspan dy="-3"> ≫ 1) while </tspan><tspan class="i">W</tspan><tspan dy="3" font-size="10">1</tspan><tspan dy="-3"> has rank </tspan><tspan class="i">N</tspan> with small or moderate singular</text>
<text class="t" x="3881" y="543" textLength="627" lengthAdjust="spacingAndGlyphs">values (<tspan class="i">σ</tspan><tspan dy="3" font-size="10" class="i">W₁</tspan><tspan dy="-3"> ≤ 𝒪(1)). “Weakly low-rank” networks for which </tspan><tspan class="i">σ</tspan><tspan dy="3" font-size="10" class="i">k</tspan><tspan dy="-3"> ∼ 𝒪(1) are studied in</tspan></text>
<text class="t" x="3881" y="563" textLength="627" lengthAdjust="spacingAndGlyphs">other work [2, 17, 4, 18, 19, 20] and do not necessarily produce low-rank suppression (see</text>
<text class="t" x="3881" y="584">Supplementary Text S.1).</text>
<text class="t" x="3862" y="617">2.</text>
<text class="t" x="3881" y="617" textLength="627" lengthAdjust="spacingAndGlyphs"><tspan class="b">Assumptions on dynamics.</tspan> In addition, our analysis relies on a linearization of the dynamics</text>
<text class="t" x="3881" y="638" textLength="627" lengthAdjust="spacingAndGlyphs">around a stable equilibrium. This requires that <tspan class="b">z</tspan>(<tspan class="i">t</tspan>) settles to a stable equilibrium whenever</text>
<text class="t" x="3881" y="659" textLength="627" lengthAdjust="spacingAndGlyphs"><tspan class="b">x</tspan>(<tspan class="i">t</tspan>) = 0, and that <tspan class="b">x</tspan>(<tspan class="i">t</tspan>) is sufficiently weak or the dynamics of <tspan class="b">z</tspan>(<tspan class="i">t</tspan>) are sufficiently linear.</text>
<text class="t" x="3881" y="679" textLength="627" lengthAdjust="spacingAndGlyphs">Nonlinear dynamics away from a stable equilibrium can produce any dynamics in principle [21,</text>
<text class="t" x="3881" y="698" textLength="592" lengthAdjust="spacingAndGlyphs">22, 23] (see Supplementary Figures S.7 and S.8 for examples of unstable network states).</text>
<text class="t" x="3865" y="732" textLength="643" lengthAdjust="spacingAndGlyphs">Under these two assumptions, low-rank suppression emerges in the sense that there are inputs, <tspan class="b">x</tspan>,</text>
<text class="t" x="3839" y="753" textLength="669" lengthAdjust="spacingAndGlyphs">approximately parallel to the column space of <tspan class="i">U</tspan>, that produce much weaker responses than inputs at</text>
<text class="t" x="3839" y="773" textLength="669" lengthAdjust="spacingAndGlyphs">random directions (as in Figure 1c). The emergence of high-dimensional dynamics (as in Figure 1d)</text>
<text class="t" x="3839" y="793">requires additional assumptions:</text>
<text class="t" x="3862" y="826">3.</text>
<text class="t" x="3881" y="826" textLength="627" lengthAdjust="spacingAndGlyphs"><tspan class="b">Assumptions on input perturbations.</tspan> We assume that x(<tspan class="i">t</tspan>) is a smooth, high-dimensional</text>
<text class="t" x="3881" y="847" textLength="627" lengthAdjust="spacingAndGlyphs">stochastic input. In simulations, we take each x<tspan dy="3" font-size="10" class="i">j</tspan><tspan dy="-3">(</tspan><tspan class="i">t</tspan>) to be an i.i.d. Gaussian process. Low-</text>
<text class="t" x="3881" y="867" textLength="627" lengthAdjust="spacingAndGlyphs">dimensional inputs, x(<tspan class="i">t</tspan>), can produce low-dimensional dynamics in networks that would oth-</text>
<text class="t" x="3881" y="888" textLength="481" lengthAdjust="spacingAndGlyphs">erwise produce high-dimensional dynamics (Supplementary Figure S.9).</text>
<text class="t" x="3862" y="921">4.</text>
<text class="t" x="3881" y="921" textLength="627" lengthAdjust="spacingAndGlyphs"><tspan class="b">Conditions on the alignment of singular vectors.</tspan> Under the assumptions above, the emer-</text>
<text class="t" x="3881" y="942" textLength="627" lengthAdjust="spacingAndGlyphs">gence of high-dimensional dynamics depends on the structure of the low-rank part, <tspan class="i">W</tspan><tspan dy="3" font-size="10">0</tspan><tspan dy="-3">, of the</tspan></text>
<text class="t" x="3881" y="962">connectivity. Specifically, let</text>
<text class="t c" x="4192" y="982"><tspan class="i">W</tspan><tspan dy="3" font-size="10">0</tspan><tspan dy="-3"> = </tspan><tspan class="i">U</tspan>Σ<tspan class="i">V</tspan><tspan dy="-6" font-size="10" class="i">T</tspan></text>
<text class="t" x="3881" y="1012" textLength="627" lengthAdjust="spacingAndGlyphs">be the singular value decomposition of <tspan class="i">W</tspan> with <tspan class="i">U</tspan> and <tspan class="i">V</tspan> being <tspan class="i">N</tspan> × <tspan class="i">r</tspan> orthonormal matrices.</text>
<text class="t" x="3881" y="1033">We define the <tspan class="i">r</tspan> × <tspan class="i">r</tspan> recurrent alignment matrix [3, 24],</text>
<text class="t c" x="4185" y="1067"><tspan class="i">P</tspan> = <tspan class="i">U</tspan><tspan dy="-6" font-size="10" class="i">T</tspan><tspan dy="6" class="i">V</tspan>.</text>
<text class="t c" x="4173" y="1112">5</text>
</g>
</g>
</svg>
